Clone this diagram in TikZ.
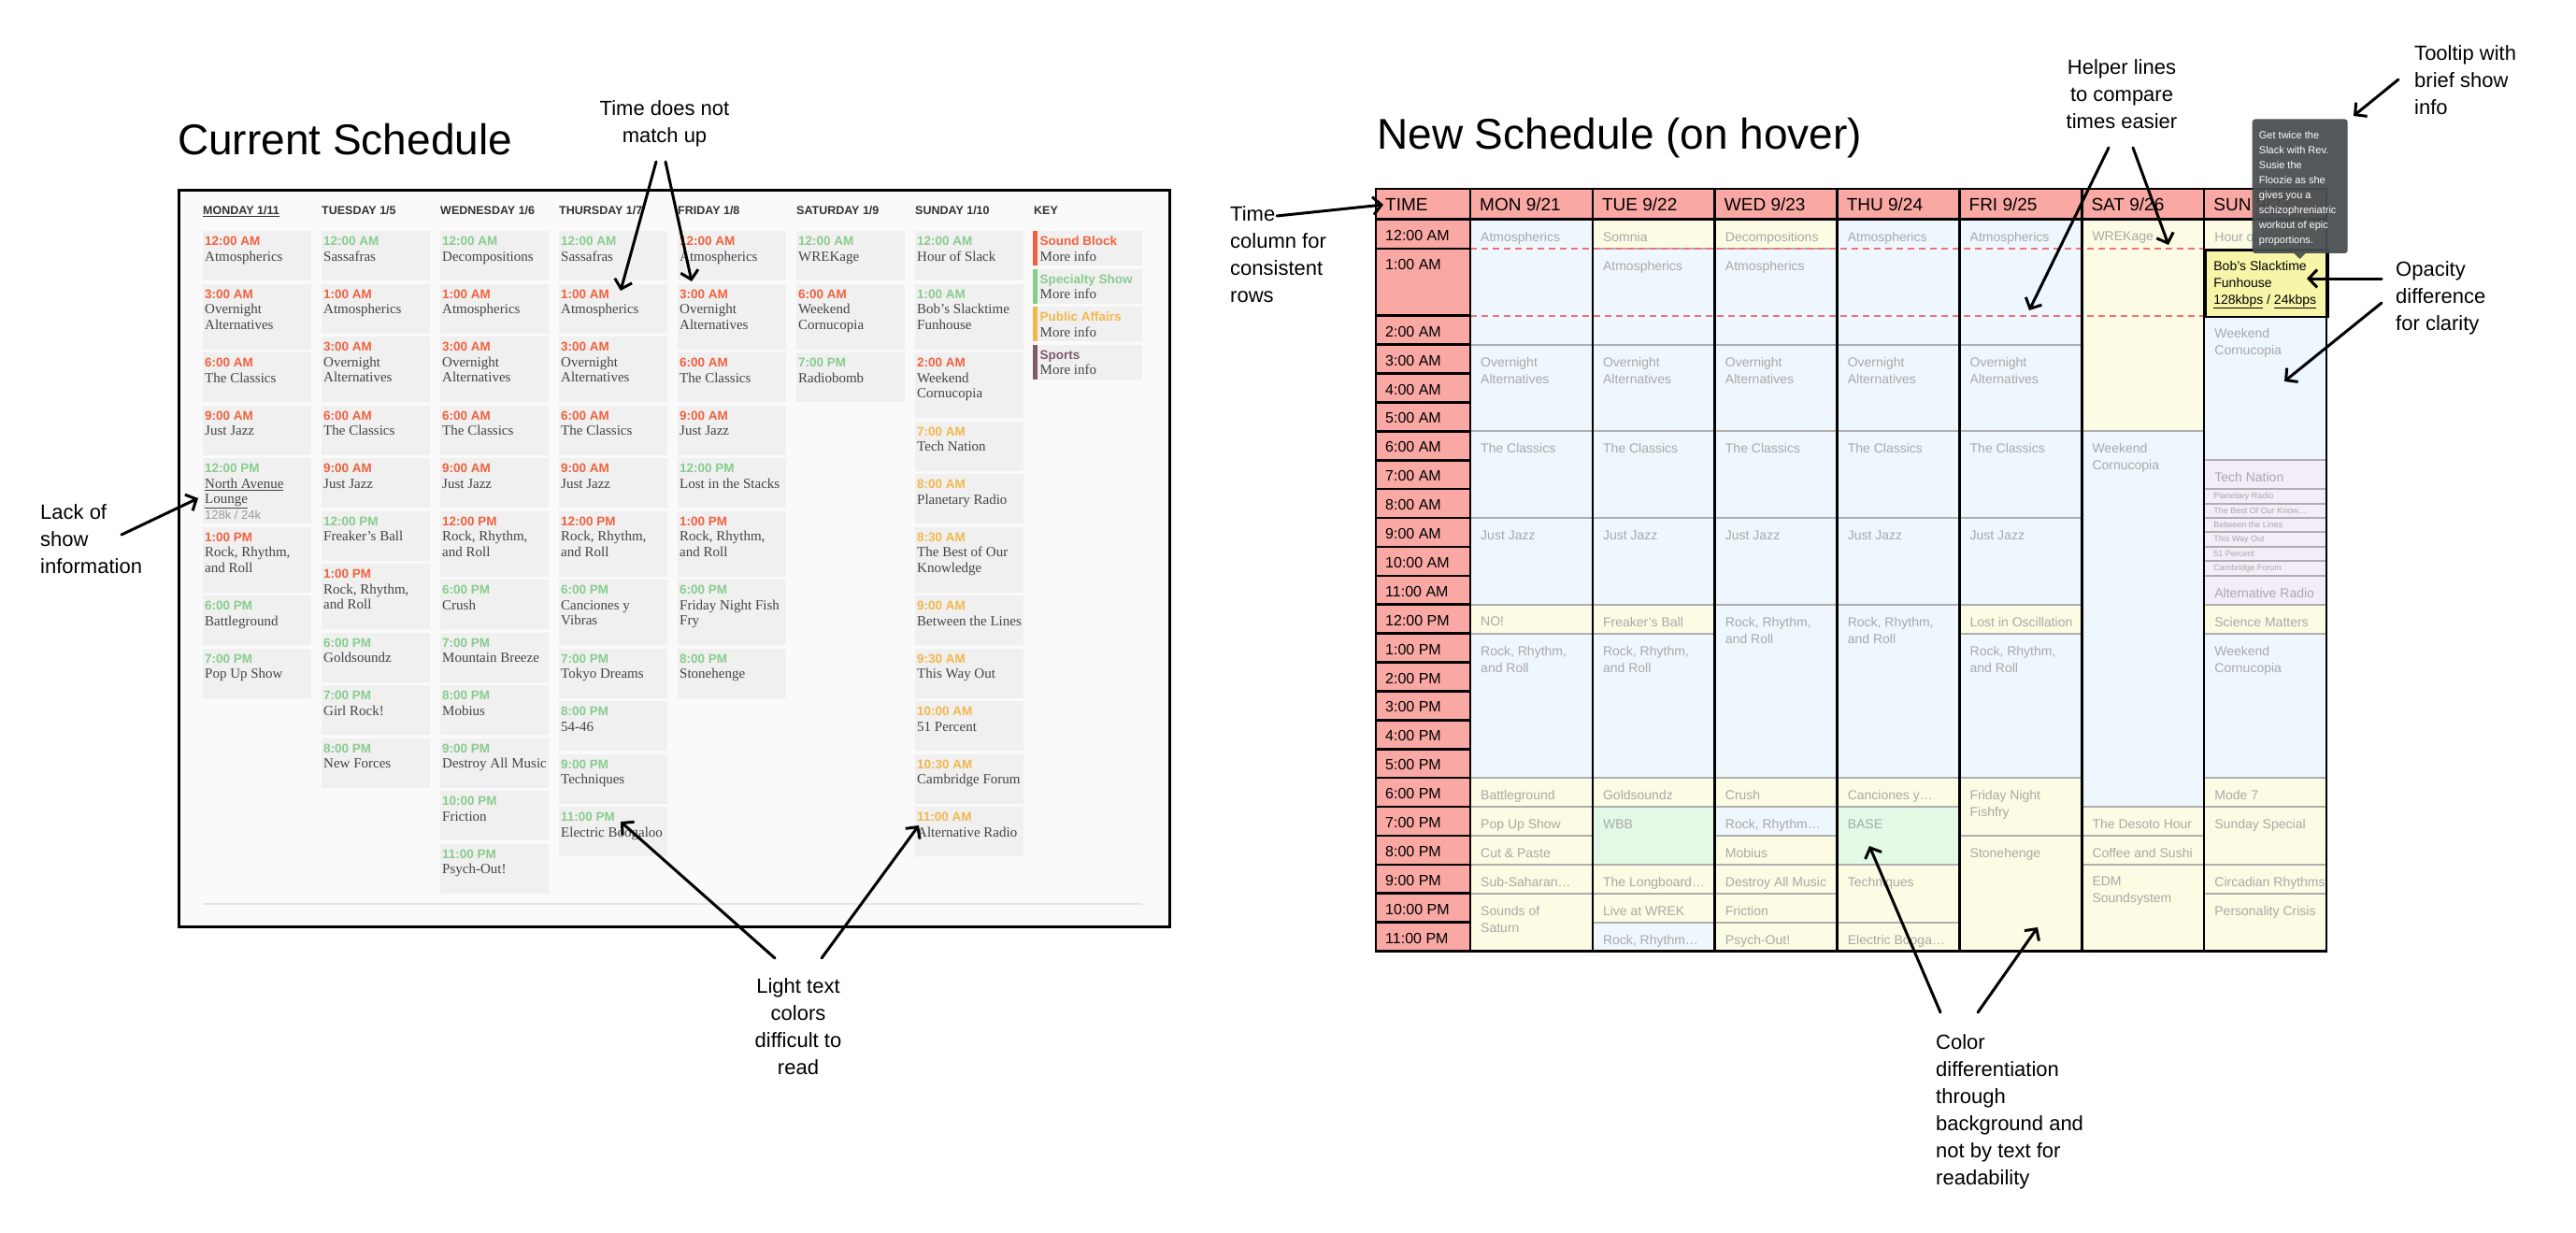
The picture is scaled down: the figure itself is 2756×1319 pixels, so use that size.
\documentclass[tikz,border=0pt]{standalone}
\usepackage{fontspec}
\setmainfont{Liberation Serif}
\setsansfont{Liberation Sans}
\usepackage{tikz}
\usetikzlibrary{arrows.meta,positioning,calc}

\definecolor{sbred}{HTML}{F0623F}
\definecolor{spgreen}{HTML}{88CC8E}
\definecolor{paorange}{HTML}{F2B84B}
\definecolor{spopurple}{HTML}{7D5A6C}
\definecolor{cellgray}{HTML}{F0F0F0}
\definecolor{pagegray}{HTML}{FAFAFA}
\definecolor{namegray}{HTML}{444444}
\definecolor{headgray}{HTML}{333333}
\definecolor{lightline}{HTML}{E6E6E6}
\definecolor{bitgray}{HTML}{999999}
\definecolor{pinkhead}{HTML}{F9A8A3}
\definecolor{blu}{HTML}{EFF7FE}
\definecolor{yel}{HTML}{FCFCE4}
\definecolor{grn}{HTML}{E2F9E6}
\definecolor{lav}{HTML}{F2EDF8}
\definecolor{bobyel}{HTML}{F7F5A8}
\definecolor{showgray}{HTML}{A8A8A8}
\definecolor{sepgray}{HTML}{AEAEAE}
\definecolor{helperred}{HTML}{F07272}
\definecolor{tipgray}{HTML}{494E51}

\newcommand{\oldtimefont}{\sffamily\bfseries\fontsize{13.5}{16.5}\selectfont}
\newcommand{\oldnamefont}{\rmfamily\fontsize{15}{16.5}\selectfont}
\newcommand{\oldhead}{\sffamily\bfseries\fontsize{12.5}{15}\selectfont}
\newcommand{\oldtime}[2]{{\oldtimefont\color{#1}\rule{0pt}{10pt}#2}}
\newcommand{\rrr}{Rock, Rhythm,\\and Roll}
\newcommand{\rrs}{Rock, Rhythm…}
\newcommand{\nal}{\underline{North Avenue}\\\underline{Lounge}\\{\sffamily\fontsize{13}{16.5}\selectfont\color{bitgray}128k / 24k}}

% one column of the old schedule: x, name prefix, list
\newcommand{\oldcol}[3]{%
  \gdef\cury{247}%
  \foreach \tm/\cl/\nl/\nm [count=\i] in {#3} {%
    \pgfmathsetmacro\hh{\nl==1 ? 53 : 70}%
    \node[oldcell, minimum height=\hh] (#2\i) at (#1,\cury) {};%
    \node[oldtext] (#2t\i) at (#1+2,\cury+5.5) {\oldtime{\cl}{\tm}\\\nm};%
    \pgfmathsetmacro\ny{\cury+\hh+3.5}%
    \xdef\cury{\ny}%
  }%
}

\tikzset{
  oldcell/.style={anchor=north west, fill=cellgray, minimum width=116, inner sep=0},
  oldtext/.style={anchor=north west, inner sep=0, align=left, text=namegray, font=\oldnamefont},
  newtext/.style={anchor=north west, inner sep=0, align=left, text=showgray, font=\sffamily\fontsize{14}{18}\selectfont},
  tinytext/.style={anchor=west, inner sep=0, text=showgray, font=\sffamily\fontsize{9}{10}\selectfont},
  timelbl/.style={anchor=west, inner sep=0, font=\sffamily\fontsize{16}{18}\selectfont},
  daylbl/.style={anchor=west, inner sep=0, font=\sffamily\fontsize{19}{22}\selectfont},
  sepline/.style={draw=sepgray, line width=2},
  grid/.style={draw=black, line width=2.6},
  helper/.style={draw=helperred, line width=1.6, dash pattern=on 7pt off 5pt},
  annotext/.style={inner sep=0, align=left, font=\sffamily\fontsize{22}{29}\selectfont},
  annoarrow/.style={-{Straight Barb[length=9pt,width=19pt]}, line width=3, line cap=round, line join=round}
}

\begin{document}
\begin{tikzpicture}[x=1pt, y=-1pt,
  declare function={rowy(\q)=ifthenelse(\q<1,234.5+31.5*\q,ifthenelse(\q<2,266+71.7*(\q-1),337.7+30.9*(\q-2)));
                    colx(\q)=1573+130.86*\q;}]
\useasboundingbox (0,0) rectangle (2756,1319);
\fill[white] (0,0) rectangle (2756,1319);

% ---------- current schedule ----------
\node[anchor=base west, inner sep=0, font=\sffamily\fontsize{46}{50}\selectfont] (oldtitle) at (190,165) {Current Schedule};
\node[draw=black, line width=2.5, fill=pagegray, anchor=north west, minimum width=1060, minimum height=788, inner sep=0] (oldbox) at (190,202) {};

\foreach \hx/\hd [count=\k] in {217/{\underline{MONDAY 1/11}}, 344/{TUESDAY 1/5}, 471/{WEDNESDAY 1/6}, 598/{THURSDAY 1/7},
    725/{FRIDAY 1/8}, 852/{SATURDAY 1/9}, 979/{SUNDAY 1/10}, 1106/KEY}
  \node[anchor=base west, inner sep=0, text=headgray, font=\oldhead] (oldhd\k) at (\hx,229.5) {\hd};

\oldcol{217}{mon}{12:00 AM/sbred/1/Atmospherics, 3:00 AM/sbred/2/Overnight\\Alternatives, 6:00 AM/sbred/1/The Classics,
  9:00 AM/sbred/1/Just Jazz, 12:00 PM/spgreen/2/\nal, 1:00 PM/sbred/2/\rrr, 6:00 PM/spgreen/1/Battleground,
  7:00 PM/spgreen/1/Pop Up Show}
\oldcol{344}{tue}{12:00 AM/spgreen/1/Sassafras, 1:00 AM/sbred/1/Atmospherics, 3:00 AM/sbred/2/Overnight\\Alternatives,
  6:00 AM/sbred/1/The Classics, 9:00 AM/sbred/1/Just Jazz, 12:00 PM/spgreen/1/Freaker's Ball, 1:00 PM/sbred/2/\rrr,
  6:00 PM/spgreen/1/Goldsoundz, 7:00 PM/spgreen/1/Girl Rock!, 8:00 PM/spgreen/1/New Forces}
\oldcol{471}{wed}{12:00 AM/spgreen/1/Decompositions, 1:00 AM/sbred/1/Atmospherics, 3:00 AM/sbred/2/Overnight\\Alternatives,
  6:00 AM/sbred/1/The Classics, 9:00 AM/sbred/1/Just Jazz, 12:00 PM/sbred/2/\rrr, 6:00 PM/spgreen/1/Crush,
  7:00 PM/spgreen/1/Mountain Breeze, 8:00 PM/spgreen/1/Mobius, 9:00 PM/spgreen/1/Destroy All Music,
  10:00 PM/spgreen/1/Friction, 11:00 PM/spgreen/1/Psych-Out!}
\oldcol{598}{thu}{12:00 AM/spgreen/1/Sassafras, 1:00 AM/sbred/1/Atmospherics, 3:00 AM/sbred/2/Overnight\\Alternatives,
  6:00 AM/sbred/1/The Classics, 9:00 AM/sbred/1/Just Jazz, 12:00 PM/sbred/2/\rrr, 6:00 PM/spgreen/2/Canciones y\\Vibras,
  7:00 PM/spgreen/1/Tokyo Dreams, 8:00 PM/spgreen/1/54-46, 9:00 PM/spgreen/1/Techniques,
  11:00 PM/spgreen/1/Electric Boogaloo}
\oldcol{725}{fri}{12:00 AM/sbred/1/Atmospherics, 3:00 AM/sbred/2/Overnight\\Alternatives, 6:00 AM/sbred/1/The Classics,
  9:00 AM/sbred/1/Just Jazz, 12:00 PM/spgreen/1/Lost in the Stacks, 1:00 PM/sbred/2/\rrr,
  6:00 PM/spgreen/2/Friday Night Fish\\Fry, 8:00 PM/spgreen/1/Stonehenge}
\oldcol{852}{sat}{12:00 AM/spgreen/1/WREKage, 6:00 AM/sbred/2/Weekend\\Cornucopia, 7:00 PM/spgreen/1/Radiobomb}
\oldcol{979}{sun}{12:00 AM/spgreen/1/Hour of Slack, 1:00 AM/spgreen/2/Bob's Slacktime\\Funhouse,
  2:00 AM/sbred/2/Weekend\\Cornucopia, 7:00 AM/paorange/1/Tech Nation, 8:00 AM/paorange/1/Planetary Radio,
  8:30 AM/paorange/2/The Best of Our\\Knowledge, 9:00 AM/paorange/1/Between the Lines, 9:30 AM/paorange/1/This Way Out,
  10:00 AM/paorange/1/51 Percent, 10:30 AM/paorange/1/Cambridge Forum, 11:00 AM/paorange/1/Alternative Radio}

% key
\foreach \kn/\kc [count=\k from 0] in {Sound Block/sbred, Specialty Show/spgreen, Public Affairs/paorange, Sports/spopurple} {
  \node[oldcell, minimum width=117, minimum height=37] (key\k) at (1105,247+40.5*\k) {};
  \fill[\kc] (1105,247+40.5*\k) rectangle (1110,284+40.5*\k);
  \node[oldtext] (keyt\k) at (1112.5,252.5+40.5*\k) {\oldtime{\kc}{\kn}\\More info};
}
\draw[lightline, line width=1.5] (217,967) -- (1222,967);

% ---------- new schedule ----------
\node[anchor=base west, inner sep=0, font=\sffamily\fontsize{46}{50}\selectfont] (newtitle) at (1473,160) {New Schedule (on hover)};

\fill[pinkhead] (1472,202) rectangle (2489,234.5);
\fill[pinkhead] (1472,234.5) rectangle (1573,1017.5);

\foreach \dy/\st/\en/\fl/\nm [count=\i] in {
  0/0/3/blu/Atmospherics, 0/3/6/blu/Overnight\\Alternatives, 0/6/9/blu/The Classics, 0/9/12/blu/Just Jazz,
  0/12/13/yel/NO!, 0/13/18/blu/\rrr, 0/18/19/yel/Battleground, 0/19/20/yel/Pop Up Show, 0/20/21/yel/Cut \& Paste,
  0/21/22/yel/Sub-Saharan…, 0/22/24/yel/Sounds of\\Saturn,
  1/0/1/yel/Somnia, 1/1/3/blu/Atmospherics, 1/3/6/blu/Overnight\\Alternatives, 1/6/9/blu/The Classics,
  1/9/12/blu/Just Jazz, 1/12/13/yel/Freaker's Ball, 1/13/18/blu/\rrr, 1/18/19/yel/Goldsoundz, 1/19/21/grn/WBB,
  1/21/22/yel/The Longboard…, 1/22/23/yel/Live at WREK, 1/23/24/blu/\rrs,
  2/0/1/yel/Decompositions, 2/1/3/blu/Atmospherics, 2/3/6/blu/Overnight\\Alternatives, 2/6/9/blu/The Classics,
  2/9/12/blu/Just Jazz, 2/12/18/blu/\rrr, 2/18/19/yel/Crush, 2/19/20/blu/\rrs, 2/20/21/yel/Mobius,
  2/21/22/yel/Destroy All Music, 2/22/23/yel/Friction, 2/23/24/yel/Psych-Out!,
  3/0/3/blu/Atmospherics, 3/3/6/blu/Overnight\\Alternatives, 3/6/9/blu/The Classics, 3/9/12/blu/Just Jazz,
  3/12/18/blu/\rrr, 3/18/19/yel/Canciones y…, 3/19/21/grn/BASE, 3/21/23/yel/Techniques, 3/23/24/yel/Electric Booga…,
  4/0/3/blu/Atmospherics, 4/3/6/blu/Overnight\\Alternatives, 4/6/9/blu/The Classics, 4/9/12/blu/Just Jazz,
  4/12/13/yel/Lost in Oscillation, 4/13/18/blu/\rrr, 4/18/20/yel/Friday Night\\Fishfry, 4/20/24/yel/Stonehenge,
  5/0/6/yel/WREKage, 5/6/19/blu/Weekend\\Cornucopia, 5/19/20/yel/The Desoto Hour, 5/20/21/yel/Coffee and Sushi,
  5/21/24/yel/EDM\\Soundsystem,
  6/0/1/yel/Hour of Slack, 6/2/7/blu/Weekend\\Cornucopia, 6/7/8/lav/Tech Nation, 6/11/12/lav/Alternative Radio,
  6/12/13/yel/Science Matters, 6/13/18/blu/Weekend\\Cornucopia, 6/18/19/yel/Mode 7, 6/19/21/yel/Sunday Special,
  6/21/22/yel/Circadian Rhythms, 6/22/24/yel/Personality Crisis} {
  \fill[\fl] ({colx(\dy)},{rowy(\st)}) rectangle ({colx(\dy+1)},{rowy(\en)});
  \draw[sepline] ({colx(\dy)},{rowy(\st)}) -- ({colx(\dy+1)},{rowy(\st)});
  \node[newtext] (show\i) at ({colx(\dy)+11},{rowy(\st)+13.3}) {\nm};
}
% half hour slots on sunday
\foreach \st/\nm [count=\i] in {8/Planetary Radio, 8.5/The Best Of Our Know…, 9/Between the Lines,
    9.5/This Way Out, 10/51 Percent, 10.5/Cambridge Forum} {
  \fill[lav] ({colx(6)},{rowy(\st)}) rectangle ({colx(7)},{rowy(\st+0.5)});
  \draw[sepline] ({colx(6)},{rowy(\st)}) -- ({colx(7)},{rowy(\st)});
  \node[tinytext] (half\i) at ({colx(6)+10},{rowy(\st+0.25)}) {\nm};
}
\draw[sepline] ({colx(6)},{rowy(11)}) -- ({colx(7)},{rowy(11)});

% helper lines
\draw[helper] ({colx(0)},266) -- ({colx(6)},266);
\draw[helper] ({colx(0)},{rowy(2)}) -- ({colx(6)},{rowy(2)});

% hovered show
\node[draw=black, line width=2.6, fill=bobyel, anchor=north west, minimum width=130.86, minimum height=71.7, inner sep=0] (bob) at ({colx(6)},266) {};
\node[anchor=north west, inner sep=0, align=left, font=\sffamily\fontsize{14}{18}\selectfont] (bobt) at ({colx(6)+10},279)
  {Bob's Slacktime\\Funhouse\\\underline{128kbps} / \underline{24kbps}};

% grid
\foreach \j in {0,...,7} \draw[grid] ({colx(\j)},202) -- ({colx(\j)},1017.5);
\foreach \n in {1,...,23} \draw[grid] (1472,{rowy(\n)}) -- (1573,{rowy(\n)});
\draw[grid] (1472,234.5) -- (2489,234.5);
\draw[grid] (1472,202) rectangle (2489,1017.5);

\node[daylbl] (timehd) at (1482,218.5) {TIME};
\foreach \hd [count=\j from 0] in {MON 9/21, TUE 9/22, WED 9/23, THU 9/24, FRI 9/25, SAT 9/26, SUN 9/27}
  \node[daylbl] (day\j) at ({colx(\j)+10},218.5) {\hd};
\foreach \lb [count=\n from 0] in {12:00 AM, 1:00 AM, 2:00 AM, 3:00 AM, 4:00 AM, 5:00 AM, 6:00 AM, 7:00 AM, 8:00 AM,
    9:00 AM, 10:00 AM, 11:00 AM, 12:00 PM, 1:00 PM, 2:00 PM, 3:00 PM, 4:00 PM, 5:00 PM, 6:00 PM, 7:00 PM, 8:00 PM,
    9:00 PM, 10:00 PM, 11:00 PM}
  \node[timelbl] (tl\n) at (1482,{rowy(\n)+17}) {\lb};

% tooltip
\node[fill=tipgray, fill opacity=0.94, rounded corners=3, anchor=north west, minimum width=102, minimum height=143.4, inner sep=0] (tooltip) at (2409.5,127.3) {};
\fill[tipgray, fill opacity=0.94] (2454,270.7) -- (2467,270.7) -- (2460.5,277) -- cycle;
\node[anchor=north west, inner sep=0, align=left, text=white, font=\sffamily\fontsize{11}{16}\selectfont] (tipt) at (2416.7,140.4)
  {Get twice the\\Slack with Rev.\\Susie the\\Floozie as she\\gives you a\\schizophreniatric\\workout of epic\\proportions.};

% ---------- annotations ----------
\node[annotext, anchor=north, align=center] (mismatch) at (711,107.7) {Time does not\\match up};
\node[annotext, anchor=north west] (lack) at (43,539) {Lack of\\show\\information};
\node[annotext, anchor=north, align=center] (light) at (854,1046) {Light text\\colors\\difficult to\\read};
\node[annotext, anchor=north west] (timecol) at (1316,220) {Time\\column for\\consistent\\rows};
\node[annotext, anchor=north, align=center] (helpers) at (2270,63.3) {Helper lines\\to compare\\times easier};
\node[annotext, anchor=north west] (tipnote) at (2583,48.7) {Tooltip with\\brief show\\info};
\node[annotext, anchor=north west] (opacity) at (2563,279) {Opacity\\difference\\for clarity};
\node[annotext, anchor=north west] (colordiff) at (2071,1106) {Color\\differentiation\\through\\background and\\not by text for\\readability};

\coordinate (mm-s1) at (702,173);   \coordinate (mm-e1) at (664,311);
\coordinate (mm-s2) at (712,173);   \coordinate (mm-e2) at (740,301);
\coordinate (lk-s) at (130,572);    \coordinate (lk-e) at (212,533);
\coordinate (lt-s1) at (829,1025);  \coordinate (lt-e1) at (664,879);
\coordinate (lt-s2) at (879,1025);  \coordinate (lt-e2) at (983,883);
\coordinate (tc-s) at (1366,231);   \coordinate (tc-e) at (1480,219);
\coordinate (hl-s1) at (2256,158);  \coordinate (hl-e1) at (2171,332);
\coordinate (hl-s2) at (2282,158);  \coordinate (hl-e2) at (2320,262);
\coordinate (tt-s) at (2566,85);    \coordinate (tt-e) at (2518,124);
\coordinate (op-s1) at (2548,298);  \coordinate (op-e1) at (2468,298);
\coordinate (op-s2) at (2548,324);  \coordinate (op-e2) at (2444,408);
\coordinate (cd-s1) at (2076,1083); \coordinate (cd-e1) at (2000,905);
\coordinate (cd-s2) at (2116,1083); \coordinate (cd-e2) at (2180,992);

\foreach \a/\b in {mm-s1/mm-e1, mm-s2/mm-e2, lk-s/lk-e, lt-s1/lt-e1, lt-s2/lt-e2, tc-s/tc-e, hl-s1/hl-e1,
    hl-s2/hl-e2, tt-s/tt-e, op-s1/op-e1, op-s2/op-e2, cd-s1/cd-e1, cd-s2/cd-e2}
  \draw[annoarrow] (\a) -- (\b);
\end{tikzpicture}
\end{document}
